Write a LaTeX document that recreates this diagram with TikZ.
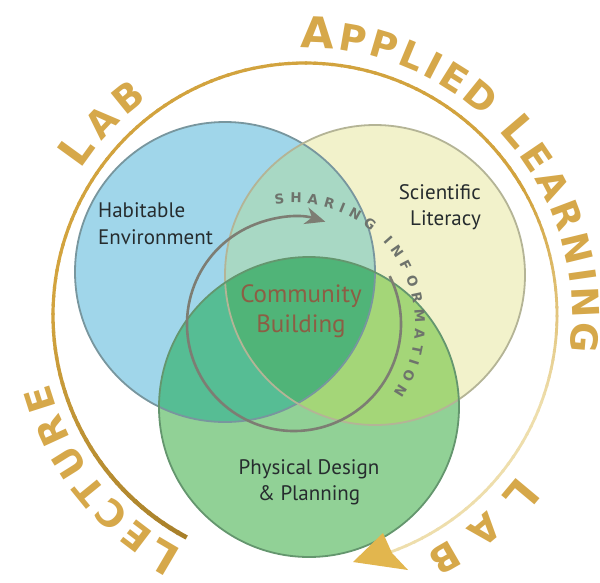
\documentclass[tikz,border=0pt]{standalone}
\usepackage{fontspec}
\setmainfont{PT Sans}
\newfontfamily\goldfamily{DejaVu Sans}
\usetikzlibrary{decorations.text,arrows.meta}
\definecolor{bluefill}{RGB}{160,214,234}
\definecolor{yellowfill}{RGB}{242,242,203}
\definecolor{greenfill}{RGB}{145,209,150}
\definecolor{bylens}{RGB}{168,216,196}
\definecolor{bglens}{RGB}{86,189,148}
\definecolor{yglens}{RGB}{164,214,120}
\definecolor{centerfill}{RGB}{80,180,120}
\definecolor{blueedge}{RGB}{120,150,158}
\definecolor{yellowedge}{RGB}{180,180,150}
\definecolor{greenedge}{RGB}{100,150,110}
\definecolor{graycirc}{RGB}{125,125,115}
\definecolor{sharetext}{RGB}{110,115,108}
\definecolor{golddark}{RGB}{168,128,42}
\definecolor{goldmid}{RGB}{210,163,62}
\definecolor{goldpale}{RGB}{238,222,172}
\definecolor{goldtext}{RGB}{214,168,74}
\definecolor{goldarrow}{RGB}{226,182,78}
\definecolor{labeltext}{RGB}{38,44,46}
\definecolor{commtext}{RGB}{140,94,68}
\newcommand\gBig{\goldfamily\bfseries\fontsize{43}{43}\selectfont}
\newcommand\gSmall{\goldfamily\bfseries\fontsize{37}{37}\selectfont}
\newcommand\shareFont{\goldfamily\bfseries\fontsize{13.5}{13.5}\selectfont}
\begin{document}
\begin{tikzpicture}[x=1pt,y=1pt,
  label/.style={inner sep=0pt, text=labeltext, font=\fontsize{21}{21}\selectfont},
  comm/.style={inner sep=0pt, text=commtext, font=\fontsize{25}{25}\selectfont},
  goldword/.style={decorate, decoration={text along path, text={#1}, text color=goldtext, text align=fit to path}}]
\useasboundingbox[fill=white] (0,0) rectangle (600,-582);
\coordinate (Bc) at (225,-272);
\coordinate (Yc) at (375,-275);
\coordinate (Gc) at (309,-407);
\coordinate (Oc) at (305,-315);
\coordinate (Ic) at (294,-324);
% fills
\fill[bluefill] (Bc) circle[radius=150];
\fill[yellowfill] (Yc) circle[radius=150];
\fill[greenfill] (Gc) circle[radius=150];
\begin{scope}
  \clip (Bc) circle[radius=150];
  \fill[bylens] (Yc) circle[radius=150];
  \fill[bglens] (Gc) circle[radius=150];
\end{scope}
\begin{scope}
  \clip (Yc) circle[radius=150];
  \fill[yglens] (Gc) circle[radius=150];
\end{scope}
\begin{scope}
  \clip (Bc) circle[radius=150];
  \clip (Yc) circle[radius=150];
  \fill[centerfill] (Gc) circle[radius=150];
\end{scope}
% outlines
\draw[blueedge, line width=1.8pt] (Bc) circle[radius=150];
\draw[yellowedge, line width=1.8pt] (Yc) circle[radius=150];
\draw[greenedge, line width=1.8pt] (Gc) circle[radius=150];
% gray arrow circle
\draw[graycirc, line width=2.6pt, -{Stealth[length=20pt,width=17pt,inset=6pt]}]
  (Ic) ++(26.6:107) arc[start angle=26.6, end angle=-287, radius=107];
\path[decorate, decoration={text along path, text={|\shareFont|SHARING INFORMATION}, text color=sharetext, text align=fit to path}]
  (Ic) ++(99:121) arc[start angle=99, end angle=-35, radius=121];
% outer ring
\foreach \a in {242,240,...,-68} {
  \pgfmathsetmacro\e{\a-2.5}
  \ifdim \a pt<180pt
    \pgfmathsetmacro\pb{min(100,max(0,(\a+20)*2))}
    \colorlet{ringc}{goldmid!\pb!goldpale}
    \pgfmathsetmacro\w{\a>30 ? 3.2 : 2.8}
  \else
    \pgfmathsetmacro\pa{(\a-180)/62*100}
    \colorlet{ringc}{golddark!\pa!goldmid}
    \pgfmathsetmacro\w{3.2+(\a-180)/62*1.4}
  \fi
  \draw[ringc, line width=\w pt] (Oc) ++(\a:252) arc[start angle=\a, end angle=\e, radius=252];
}
\fill[goldarrow] (353,-562) -- (383,-533) -- (392,-553) -- (408,-570) -- cycle;
% gold words
\path[goldword={|\gBig|L|\gSmall|AB}] (Oc) ++(147:267) arc[start angle=147, end angle=126, radius=267];
\path[goldword={|\gBig|A|\gSmall|PPLIED |\gBig|L|\gSmall|EARNING}] (Oc) ++(91:267) arc[start angle=91, end angle=-8, radius=267];
\path[goldword={|\gBig|L|\gSmall|ECTURE}] (Oc) ++(242.5:265) arc[start angle=242.5, end angle=195, radius=265];
\path[goldword={|\gBig|L|\gSmall|AB}] (Oc) ++(-37:267) arc[start angle=-37, end angle=-63, radius=267];
% labels
\node[label, anchor=base west] (hab1) at (98,-217) {Habitable};
\node[label, anchor=base west] (hab2) at (98,-244) {Environment};
\node[label, anchor=base east] (sci1) at (481,-199) {Scientific};
\node[label, anchor=base east] (sci2) at (481,-225) {Literacy};
\node[comm, anchor=base] (com1) at (301,-302) {Community};
\node[comm, anchor=base] (com2) at (301,-332) {Building};
\node[label, anchor=base] (phy1) at (309,-474) {Physical Design};
\node[label, anchor=base] (phy2) at (309,-500) {\& Planning};
\end{tikzpicture}
\end{document}
